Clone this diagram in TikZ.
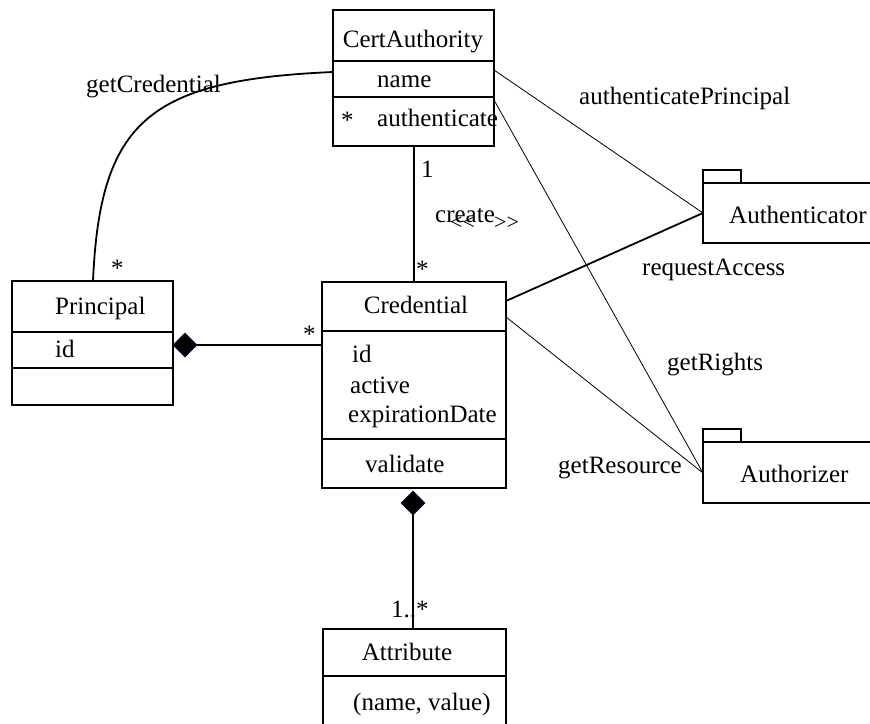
\documentclass[tikz,border=0pt]{standalone}
\usepackage{fontspec}
\setmainfont{Liberation Serif}
\begin{document}
\begin{tikzpicture}[x=1pt,y=-1pt,
  cls/.style={draw, line width=1.6pt, inner sep=0pt, outer sep=0pt, anchor=north west},
  pkg/.style={draw, line width=1.6pt, inner sep=0pt, outer sep=0pt, anchor=north west},
  sep/.style={line width=1.6pt},
  assoc/.style={line width=0.8pt},
  strong/.style={line width=1.8pt},
  txt/.style={inner sep=0pt, font=\fontsize{25}{29}\selectfont},
  lbl/.style={txt, anchor=base west},
  ctr/.style={txt, anchor=base},
  small/.style={inner sep=0pt, anchor=base west, font=\fontsize{22}{24}\selectfont},
  comp/.style={fill=black, draw=black!70!blue, line width=0.6pt}
]
\clip (0,0) rectangle (870,723);

% ---- classes ----
\node[cls, minimum width=161pt, minimum height=136pt] (ca) at (333,10) {};
\node[cls, minimum width=161pt, minimum height=124pt] (pr) at (12,281) {};
\node[cls, minimum width=184pt, minimum height=206pt] (cr) at (322,282) {};
\node[cls, minimum width=183pt, minimum height=111pt] (at) at (323,629) {};

% compartment dividers
\draw[sep] (ca.west |- 0,61) -- (ca.east |- 0,61);
\draw[sep] (ca.west |- 0,97) -- (ca.east |- 0,97);
\draw[sep] (pr.west |- 0,332) -- (pr.east |- 0,332);
\draw[sep] (pr.west |- 0,368) -- (pr.east |- 0,368);
\draw[sep] (cr.west |- 0,331) -- (cr.east |- 0,331);
\draw[sep] (cr.west |- 0,439) -- (cr.east |- 0,439);
\draw[sep] (at.west |- 0,676) -- (at.east |- 0,676);

% ---- packages ----
\node[pkg, minimum width=38pt, minimum height=13pt] (antab) at (703,170) {};
\node[pkg, minimum width=187pt, minimum height=60pt] (an) at (703,183) {};
\node[pkg, minimum width=38pt, minimum height=13pt] (aztab) at (703,429) {};
\node[pkg, minimum width=187pt, minimum height=61pt] (az) at (703,442) {};

% ---- texts in classes ----
\node[ctr] (caT) at (413,47) {CertAuthority};
\node[lbl] (caA) at (377,87) {name};
\node[lbl] (caS) at (341,128) {*};
\node[lbl] (caO) at (377,126) {authenticate};

\node[lbl] (prT) at (55,314) {Principal};
\node[lbl] (prA) at (55,357) {id};

\node[ctr] (crT) at (416,313) {Credential};
\node[lbl] (crA1) at (352,362) {id};
\node[lbl] (crA2) at (350,393) {active};
\node[lbl] (crA3) at (348,422) {expirationDate};
\node[lbl] (crO) at (365,472) {validate};

\node[ctr] (atT) at (407,660) {Attribute};
\node[lbl] (atA) at (353,710) {(name, value)};

\node[lbl] (anT) at (729,223) {Authenticator};
\node[lbl] (azT) at (740,482) {Authorizer};

% ---- connector ports ----
\coordinate (caR1) at (ca.east |- 0,70);
\coordinate (caR2) at (ca.east |- 0,100);
\coordinate (caL) at (ca.west |- 0,72);
\coordinate (crR1) at (cr.east |- 0,301);
\coordinate (crR2) at (cr.east |- 0,317);
\coordinate (crL) at (cr.west |- 0,345);
\coordinate (anL) at (an.west |- 0,213);
\coordinate (azL) at (az.west |- 0,473);
\coordinate (prTop) at (pr.north -| 93,0);
\coordinate (caB) at (ca.south -| 414,0);
\coordinate (crTop) at (cr.north -| 414,0);
\coordinate (crB) at (cr.south -| 413,0);
\coordinate (atTop) at (at.north -| 413,0);

% composition diamonds
\coordinate (d1) at (pr.east |- 0,345);
\path (d1) ++(24,0) coordinate (d1r);
\filldraw[comp] (d1) -- ++(12,-12) -- (d1r) -- ++(-12,12) -- cycle;
\path (crB) ++(0,3) coordinate (d2);
\path (d2) ++(0,24) coordinate (d2b);
\filldraw[comp] (d2) -- ++(12,12) -- (d2b) -- ++(-12,-12) -- cycle;

% ---- connectors ----
\draw[strong] (d1r) -- (crL);
\draw[strong] (d2b) -- (atTop);
\draw[strong] (caB) -- (crTop);
\draw[strong] (prTop) .. controls (100,120) and (150,80) .. (caL);
\draw[assoc] (caR1) -- (anL);
\draw[assoc] (caR2) -- (azL);
\draw[strong] (crR1) -- (anL);
\draw[assoc] (crR2) -- (azL);

% ---- connector labels ----
\node[lbl] (lGetCred) at (86,92) {getCredential};
\node[lbl] (lAuthP) at (579,104) {authenticatePrincipal};
\node[lbl] (lReq) at (642,275) {requestAccess};
\node[lbl] (lRights) at (667,370) {getRights};
\node[lbl] (lRes) at (558,473) {getResource};
\node[lbl] (lCreate) at (435,222) {create};
\node[small] (lOpen) at (450,229) {<{}<};
\node[small] (lClose) at (494,229) {>{}>};

% multiplicities
\node[lbl] (m1) at (421,177) {1};
\node[lbl] (m2) at (416,277) {*};
\node[lbl] (m3) at (111,276) {*};
\node[lbl] (m4) at (303,342) {*};
\node[lbl] (m5) at (391,617) {1..*};
\end{tikzpicture}
\end{document}
